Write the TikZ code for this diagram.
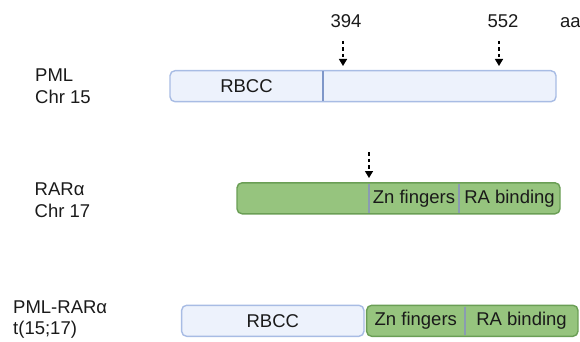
\documentclass[tikz,border=0pt]{standalone}
\usepackage{fontspec}
\setmainfont{Liberation Sans}
\usetikzlibrary{arrows.meta}
\definecolor{lightfill}{HTML}{EDF2FC}
\definecolor{lightdraw}{HTML}{A8BCE4}
\definecolor{greenfill}{HTML}{96C47E}
\definecolor{greendraw}{HTML}{6A9E55}
\definecolor{divblue}{HTML}{7F97C9}
\definecolor{divgrey}{HTML}{8A9BB2}
\definecolor{txt}{HTML}{1A1A1A}
\begin{document}
\begin{tikzpicture}[x=1pt,y=-1pt,
  every node/.style={text=txt,font=\fontsize{18.5}{21.5}\selectfont,inner sep=0pt},
  lightbar/.style={draw=lightdraw,fill=lightfill,line width=1.4pt,rounded corners=5pt,minimum height=31pt},
  greenbar/.style={draw=greendraw,fill=greenfill,line width=1.4pt,rounded corners=5pt,minimum height=31pt},
  divline/.style={line width=1.2pt},
  sidelabel/.style={align=left,anchor=west},
  cutarrow/.style={draw=black,line width=1.4pt,dash pattern=on 3.5pt off 3pt,-{Triangle[width=8pt,length=7pt]}}
]
\useasboundingbox (0,0) rectangle (580,342);

% side labels
\node[sidelabel] (lpml) at (35,86) {PML\\Chr 15};
\node[sidelabel] (lrar) at (34.5,200) {RARα\\Chr 17};
\node[sidelabel] (lfus) at (13,319.5) {PML-RARα\\t(15;17)};

% top numbers
\node (n394) at (346,21) {394};
\node (n552) at (503,21) {552};
\node[anchor=west] (naa) at (560,22.5) {aa};

% PML bar
\node[lightbar,minimum width=386pt] (pml) at (363,86.2) {};
\coordinate (pmldivT) at (323,71.4);
\coordinate (pmldivB) at (323,101);
\draw[divline,draw=divblue] (pmldivT) -- (pmldivB);
\node (rbcc1) at (246.5,86.5) {RBCC};

% RAR bar
\node[greenbar,minimum width=323pt] (rar) at (398.5,198.3) {};
\coordinate (rdiv1T) at (369,184); \coordinate (rdiv1B) at (369,213);
\coordinate (rdiv2T) at (459,184); \coordinate (rdiv2B) at (459,213);
\draw[divline,draw=divgrey] (rdiv1T) -- (rdiv1B);
\draw[divline,draw=divgrey] (rdiv2T) -- (rdiv2B);
\node (zn1) at (414,199) {Zn fingers};
\node (ra1) at (509.5,199) {RA binding};

% fusion
\node[lightbar,minimum width=182.3pt] (fpml) at (272.8,320.8) {};
\node (rbcc2) at (272.8,321.2) {RBCC};
\node[greenbar,minimum width=211.3pt] (frar) at (472.3,320.8) {};
\coordinate (fdivT) at (465,306.5); \coordinate (fdivB) at (465,335.2);
\draw[divline,draw=divgrey] (fdivT) -- (fdivB);
\node (zn2) at (415.8,321.2) {Zn fingers};
\node (ra2) at (521.5,321.2) {RA binding};

% breakpoint arrows
\coordinate (a1s) at (343,41); \coordinate (a1e) at (343,66);
\coordinate (a2s) at (499,41); \coordinate (a2e) at (499,66);
\coordinate (a3s) at (369,152); \coordinate (a3e) at (369,178);
\draw[cutarrow] (a1s) -- (a1e);
\draw[cutarrow] (a2s) -- (a2e);
\draw[cutarrow] (a3s) -- (a3e);
\end{tikzpicture}
\end{document}
